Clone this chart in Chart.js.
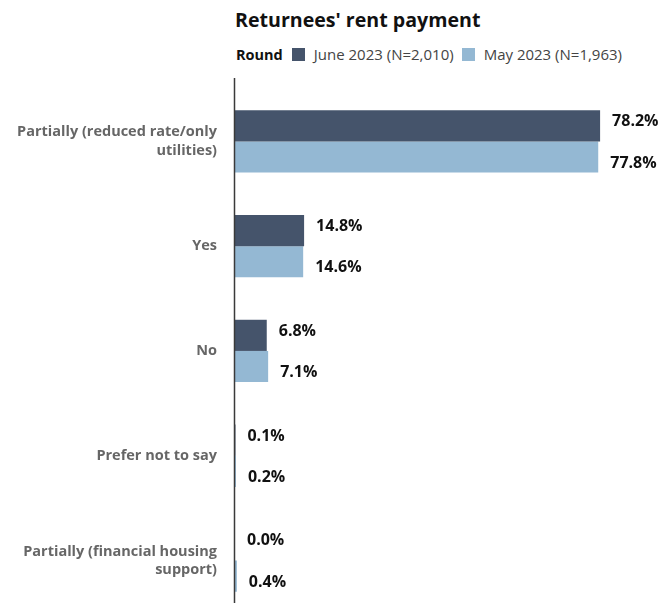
<!DOCTYPE html>
<html>
<head>
<meta charset="utf-8">
<script src="https://cdn.jsdelivr.net/npm/chart.js@4"></script>
<style>
  html, body { margin: 0; padding: 0; background: #fff; overflow: hidden; }
  body { width: 672px; height: 603px; position: relative; font-family: "Open Sans", sans-serif; }
  #title { position: absolute; left: 235px; top: 6px; font-size: 19.6px; font-weight: bold; color: #111; white-space: nowrap; }
  #legend { position: absolute; left: 236px; top: 44px; font-size: 15px; color: #444; white-space: nowrap; display: flex; align-items: center; }
  #legend b { color: #111; margin-right: 9px; font-size: 14.5px; }
  #legend .sw { display: inline-block; width: 13px; height: 13px; margin-right: 9px; }
  #legend .item { display: flex; align-items: center; margin-right: 8px; }
  #wrap { position: absolute; left: 0; top: 0; width: 672px; height: 641px; }
</style>
</head>
<body>
<div id="title">Returnees' rent payment</div>
<div id="legend"></div>
<div id="wrap"><canvas id="rentChart"></canvas></div>
<script>
// Data
const categories = [
  ['Partially (reduced rate/only', 'utilities)'],
  'Yes',
  'No',
  'Prefer not to say',
  ['Partially (financial housing', 'support)']
];
const june2023 = [78.2, 14.8, 6.8, 0.1, 0.0];
const may2023 = [77.8, 14.6, 7.1, 0.2, 0.4];
const seriesNames = ['June 2023 (N=2,010)', 'May 2023 (N=1,963)'];
const seriesColors = ['#45546b', '#94b8d3'];

// Legend (HTML)
const legendEl = document.getElementById('legend');
legendEl.innerHTML = '<b>Round</b>' + seriesNames.map(function (name, i) {
  return '<span class="item"><span class="sw" style="background:' + seriesColors[i] + '"></span>' + name + '</span>';
}).join('');

// Value labels at the bar ends + the y axis line
const valueLabels = {
  id: 'valueLabels',
  afterDatasetsDraw(chart) {
    const ctx = chart.ctx;
    const area = chart.chartArea;
    ctx.save();
    ctx.strokeStyle = '#3a3a3a';
    ctx.lineWidth = 1.5;
    ctx.beginPath();
    ctx.moveTo(area.left - 0.5, area.top - 11);
    ctx.lineTo(area.left - 0.5, area.bottom);
    ctx.stroke();

    ctx.font = 'bold 16px "Open Sans", sans-serif';
    ctx.fillStyle = '#111';
    ctx.textBaseline = 'middle';
    ctx.textAlign = 'left';
    chart.data.datasets.forEach(function (ds, di) {
      const shift = di === 0 ? -4 : 6;
      chart.getDatasetMeta(di).data.forEach(function (bar, i) {
        ctx.fillText(ds.data[i].toFixed(1) + '%', bar.x + 12, bar.y + shift);
      });
    });
    ctx.restore();
  }
};

const ctx = document.getElementById('rentChart').getContext('2d');
new Chart(ctx, {
  type: 'bar',
  data: {
    labels: categories,
    datasets: [
      { label: seriesNames[0], data: june2023, backgroundColor: seriesColors[0] },
      { label: seriesNames[1], data: may2023, backgroundColor: seriesColors[1] }
    ]
  },
  options: {
    indexAxis: 'y',
    responsive: true,
    maintainAspectRatio: false,
    animation: false,
    datasets: {
      bar: { barPercentage: 1, categoryPercentage: 0.595 }
    },
    layout: { padding: { top: 89, left: 0, right: 0, bottom: 0 } },
    plugins: {
      legend: { display: false },
      tooltip: { enabled: false }
    },
    scales: {
      x: { display: false, min: 0, max: 93.6 },
      y: {
        grid: { display: false },
        border: { display: false },
        ticks: {
          color: '#666',
          padding: 10,
          font: { family: '"Open Sans", sans-serif', size: 14.5, weight: 'bold', lineHeight: 1.25 }
        },
        afterFit: function (scale) { scale.width = 235; }
      }
    }
  },
  plugins: [valueLabels]
});
</script>
</body>
</html>
